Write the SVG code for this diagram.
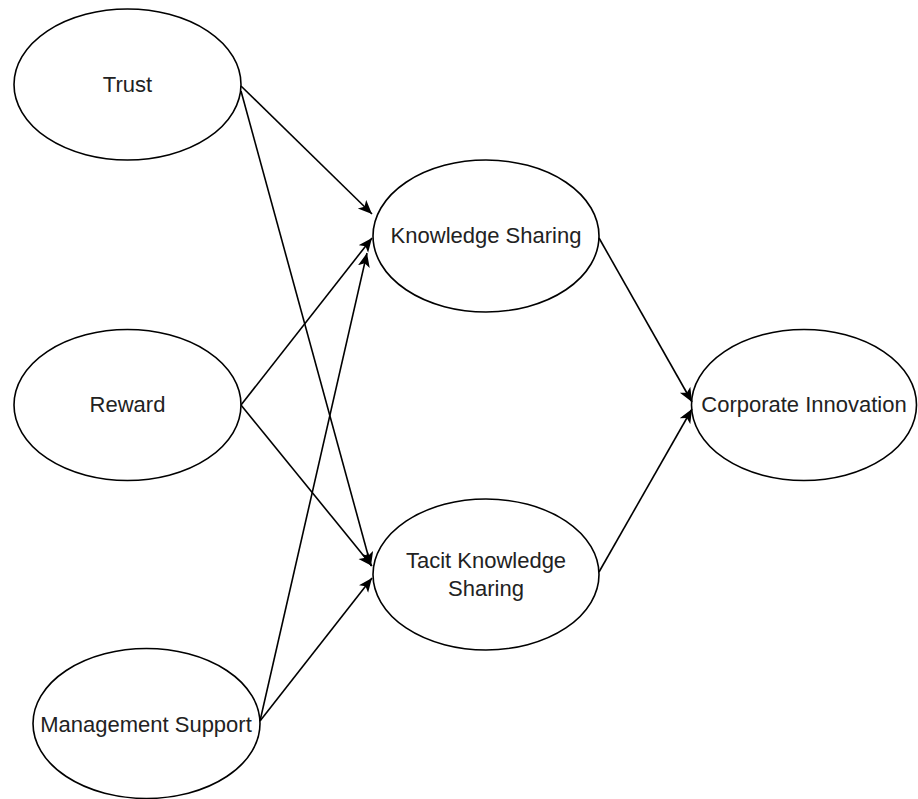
<svg xmlns="http://www.w3.org/2000/svg" width="918" height="799" viewBox="0 0 918 799">
<style>
.node ellipse{fill:#fff;stroke:#000;stroke-width:1.6}
.node text{font-family:"Liberation Sans",Arial,sans-serif;font-size:22px;fill:#222;text-anchor:middle}
.edge{stroke:#000;stroke-width:1.6;fill:none;marker-end:url(#arr)}
</style>
<defs>
<marker id="arr" markerUnits="userSpaceOnUse" markerWidth="15" markerHeight="13" refX="14" refY="6" orient="auto">
<path d="M0,0 L14,6 L0,12 L3.5,6 z" fill="#000"/>
</marker>
</defs>
<rect width="918" height="799" fill="#fff"/>
<g id="nodes">
<g id="trust" class="node"><ellipse cx="127.5" cy="84.5" rx="113.5" ry="75.5"/><text x="127.5" y="92">Trust</text></g>
<g id="reward" class="node"><ellipse cx="127.5" cy="405" rx="113.5" ry="75.5"/><text x="127.5" y="412">Reward</text></g>
<g id="management" class="node"><ellipse cx="146.5" cy="723.5" rx="113.5" ry="75"/><text x="146" y="732">Management Support</text></g>
<g id="knowledge" class="node"><ellipse cx="486" cy="236" rx="113" ry="76"/><text x="486" y="243">Knowledge Sharing</text></g>
<g id="tacit" class="node"><ellipse cx="486" cy="574.5" rx="113" ry="75.5"/><text x="486" y="568">Tacit Knowledge</text><text x="486" y="596">Sharing</text></g>
<g id="corporate" class="node"><ellipse cx="804" cy="405" rx="112.5" ry="75.5"/><text x="804" y="412">Corporate Innovation</text></g>
</g>
<g id="connectors">
<line class="edge" x1="241" y1="86" x2="372" y2="214"/>
<line class="edge" x1="241" y1="91" x2="371" y2="566"/>
<line class="edge" x1="241" y1="405" x2="372" y2="238"/>
<line class="edge" x1="241" y1="405" x2="372" y2="566"/>
<line class="edge" x1="260" y1="721" x2="367" y2="253"/>
<line class="edge" x1="260" y1="721" x2="372" y2="578"/>
<line class="edge" x1="599" y1="238" x2="692" y2="402"/>
<line class="edge" x1="599" y1="572" x2="692" y2="409"/>
</g>
</svg>
